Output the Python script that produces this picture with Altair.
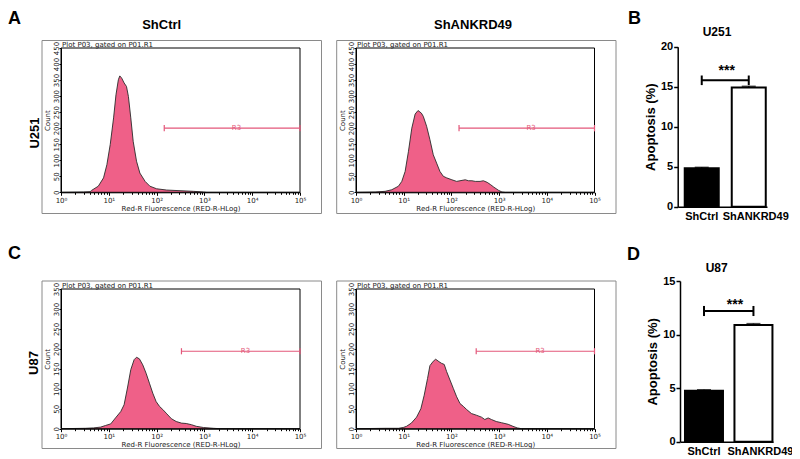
import altair as alt
import numpy as np
import pandas as pd

W, H = 784, 451

# ------------------------------------------------------------------ data
col_titles = ["ShCtrl", "ShANKRD49"]
row_titles = ["U251", "U87"]
panel_letters = ["A", "B", "C", "D"]
plot_caption = "Plot P03, gated on P01.R1"
x_title = "Red-R Fluorescence (RED-R-HLog)"
gate_name = "R3"

# histograms: log10(fluorescence) and counts
u251_ctrl_log10 = [0.0, 0.47, 0.61, 0.64, 0.78, 0.89, 0.96, 1.03, 1.10, 1.15, 1.20, 1.23,
                   1.27, 1.32, 1.37, 1.41, 1.46, 1.51, 1.58, 1.65, 1.76, 1.86, 2.00, 2.21,
                   2.49, 2.77, 2.98, 3.05, 5.0]
u251_ctrl_count = [0, 1, 2, 6, 19, 45, 86, 149, 232, 304, 351, 363,
                   356, 341, 330, 299, 232, 159, 97, 60, 34, 19, 11, 7,
                   5, 3, 1, 0, 0]

u251_sh_log10 = [0.0, 0.40, 0.61, 0.75, 0.89, 0.96, 1.03, 1.10, 1.17, 1.24, 1.30, 1.37,
                 1.41, 1.48, 1.55, 1.62, 1.69, 1.76, 1.83, 1.90, 2.01, 2.11, 2.18, 2.29,
                 2.36, 2.43, 2.50, 2.60, 2.67, 2.75, 2.82, 2.89, 2.99, 3.06, 3.13, 5.0]
u251_sh_count = [0, 1, 3, 8, 19, 34, 65, 128, 200, 244, 255, 247,
                 237, 206, 164, 117, 91, 65, 50, 45, 39, 34, 36, 39,
                 36, 36, 34, 34, 36, 31, 24, 16, 6, 1, 0, 0]

u87_ctrl_log10 = [0.0, 0.51, 0.68, 0.83, 0.93, 1.04, 1.14, 1.25, 1.32, 1.39, 1.46, 1.53,
                  1.58, 1.64, 1.71, 1.78, 1.85, 1.92, 1.99, 2.06, 2.13, 2.20, 2.31, 2.41,
                  2.52, 2.62, 2.73, 2.83, 2.98, 3.19, 3.33, 5.0]
u87_ctrl_count = [0, 1, 2, 4, 8, 12, 27, 43, 60, 102, 148, 173,
                  179, 175, 160, 139, 114, 89, 68, 56, 48, 39, 25, 18,
                  14, 13, 10, 6, 3, 1, 0, 0]

u87_sh_log10 = [0.0, 0.61, 0.89, 0.99, 1.06, 1.16, 1.27, 1.36, 1.43, 1.50, 1.55, 1.62,
                1.67, 1.74, 1.79, 1.85, 1.90, 1.97, 2.04, 2.11, 2.18, 2.25, 2.32, 2.42,
                2.52, 2.63, 2.70, 2.77, 2.84, 2.94, 3.05, 3.19, 3.29, 3.38, 3.47, 5.0]
u87_sh_count = [0, 1, 1, 3, 6, 14, 29, 50, 84, 126, 158, 169,
                174, 168, 164, 161, 143, 122, 101, 80, 63, 56, 48, 38,
                34, 29, 23, 27, 23, 18, 15, 11, 6, 2, 0, 0]

# gate R3: start (log10), level (count), label position (log10)
u251_gate = (2.16, 200, 3.67)
u87_gate = (2.52, 194, 3.86)

# bar charts
bar_groups = ["ShCtrl", "ShANKRD49"]
u251_apoptosis = [4.8, 14.9]
u251_sem = [0.12, 0.15]
u87_apoptosis = [4.75, 10.9]
u87_sem = [0.1, 0.12]
u251_sig_level = 15.8
u87_sig_level = 12.2
sig_text = "***"

decade_ticks = [1, 10, 100, 1000, 10000, 100000]
minor_ticks = [m * 10 ** k for k in range(5) for m in range(2, 10)]

# ------------------------------------------------------------------ style
PINK = "#EF6088"
GATE = "#E3577A"
FLOW_FONT = "DejaVu Sans"
BAR_FONT = "Liberation Sans"
SUP = "['\u2070','\u00b9','\u00b2','\u00b3','\u2074','\u2075']"

one = pd.DataFrame({"k": [0]})


def text_layer(t, x, y, size, angle=0, align="center", baseline="middle",
               font=BAR_FONT, weight="bold", color="black"):
    return alt.Chart(pd.DataFrame({"t": [t]})).mark_text(
        fontSize=size, font=font, fontWeight=weight, align=align,
        baseline=baseline, angle=angle, color=color
    ).encode(text="t:N", x=alt.value(x), y=alt.value(y))


def histogram(logs, counts, ymax, xr, yr, gate, frame):
    df = pd.DataFrame({"fl": np.power(10.0, logs), "count": counts})
    xs = alt.Scale(type="log", domain=[1, 100000], range=xr, nice=False)
    ys = alt.Scale(domain=[0, ymax], range=yr, nice=False, zero=False)
    out = []
    # outer grey frame
    out.append(alt.Chart(one).mark_rect(fillOpacity=0, stroke="#8a8a8a", strokeWidth=1).encode(
        x=alt.value(frame[0]), x2=alt.value(frame[1]),
        y=alt.value(frame[2]), y2=alt.value(frame[3])))
    # filled histogram with main axes
    out.append(alt.Chart(df).mark_area(
        color=PINK, opacity=1, line={"color": "#2a2a2a", "strokeWidth": 0.9}
    ).encode(
        x=alt.X("fl:Q", scale=xs, axis=alt.Axis(
            orient="bottom", offset=yr[0] - H, values=decade_ticks,
            labelExpr="'10' + " + SUP + "[round(log(datum.value)/LN10)]",
            labelFont=FLOW_FONT, labelFontSize=7, labelColor="#222",
            labelPadding=1, labelFlush=False, tickSize=3, tickColor="black",
            domainColor="black", grid=False, title=x_title, titleFont=FLOW_FONT,
            titleFontSize=7, titleFontWeight="normal", titleColor="#222",
            titlePadding=1)),
        y=alt.Y("count:Q", scale=ys, axis=alt.Axis(
            orient="left", offset=-xr[0], values=list(range(0, ymax + 1, 50)),
            labelAngle=270, labelAlign="center", labelBaseline="alphabetic",
            labelFont=FLOW_FONT, labelFontSize=7, labelColor="#222",
            labelPadding=1, labelFlush=False, tickSize=2, tickColor="black",
            domainColor="black", grid=False, title="Count", titleFont=FLOW_FONT,
            titleFontSize=7, titleFontWeight="normal", titleColor="#222",
            titlePadding=2)),
        y2=alt.datum(0),
    ))
    # minor log ticks
    out.append(alt.Chart(df).mark_point(opacity=0).encode(
        x=alt.X("fl:Q", scale=xs, axis=alt.Axis(
            orient="bottom", offset=yr[0] - H, values=minor_ticks, labels=False,
            tickSize=2, tickColor="black", domain=False, grid=False, title="")),
        y=alt.Y("count:Q", scale=ys, axis=None)))
    # inner box
    box = pd.DataFrame({"x1": [1], "x2": [100000], "y1": [0], "y2": [ymax]})
    out.append(alt.Chart(box).mark_rect(fillOpacity=0, stroke="black", strokeWidth=1).encode(
        x=alt.X("x1:Q", scale=xs, axis=None), x2="x2:Q",
        y=alt.Y("y1:Q", scale=ys, axis=None), y2="y2:Q"))
    # gate
    lo, lvl, lab = gate
    g = pd.DataFrame({"x1": [10 ** lo], "x2": [100000], "y": [lvl]})
    out.append(alt.Chart(g).mark_rule(color=GATE, strokeWidth=1.2).encode(
        x=alt.X("x1:Q", scale=xs, axis=None), x2="x2:Q",
        y=alt.Y("y:Q", scale=ys, axis=None)))
    cap = ymax * 0.022
    caps = pd.DataFrame({"x": [10 ** lo, 100000], "y1": [lvl - cap] * 2, "y2": [lvl + cap] * 2})
    out.append(alt.Chart(caps).mark_rule(color=GATE, strokeWidth=1.2).encode(
        x=alt.X("x:Q", scale=xs, axis=None),
        y=alt.Y("y1:Q", scale=ys, axis=None), y2="y2:Q"))
    gl = pd.DataFrame({"x": [10 ** lab], "y": [lvl], "t": [gate_name]})
    out.append(alt.Chart(gl).mark_text(color=GATE, font=FLOW_FONT, fontSize=7,
                                       baseline="alphabetic", dy=2).encode(
        x=alt.X("x:Q", scale=xs, axis=None),
        y=alt.Y("y:Q", scale=ys, axis=None), text="t:N"))
    out.append(text_layer(plot_caption, xr[0] + 1, yr[1] - 1.5, 7, align="left",
                          baseline="alphabetic", font=FLOW_FONT, weight="normal",
                          color="#222"))
    return out


def bar_panel(values, sems, ymax, yvals, xr, yr, pin, pout, align, sig_level, sig_cap, sig_xy):
    df = pd.DataFrame({"group": bar_groups, "value": values, "sem": sems})
    df["top"] = df["value"] + df["sem"]
    xs = alt.Scale(type="band", domain=bar_groups, range=xr, paddingInner=pin,
                   paddingOuter=pout, align=align)
    ys = alt.Scale(domain=[0, ymax], range=yr, nice=False)
    out = []
    out.append(alt.Chart(df).mark_bar(stroke="black", strokeWidth=2).encode(
        x=alt.X("group:N", scale=xs, sort=bar_groups, axis=alt.Axis(
            orient="bottom", offset=yr[0] - H, labelAngle=0, labelFont=BAR_FONT,
            labelFontSize=11, labelFontWeight="bold", labelColor="black",
            labelPadding=4, ticks=False,
            labelOffset={"condition": {"test": "datum.value == 'ShANKRD49'", "value": 7},
                         "value": 0},
            domainWidth=1.5, domainColor="black", grid=False, title="")),
        y=alt.Y("value:Q", scale=ys, axis=alt.Axis(
            orient="left", offset=-xr[0], values=yvals, labelFont=BAR_FONT,
            labelFontSize=11, labelFontWeight="bold", labelColor="black",
            labelPadding=1, tickSize=4, tickWidth=1.5, tickColor="black",
            domainWidth=1.5, domainColor="black", grid=False,
            title="Apoptosis (%)", titleFont=BAR_FONT, titleFontSize=13,
            titleFontWeight="bold", titleColor="black", titlePadding=3)),
        fill=alt.Fill("group:N", scale=alt.Scale(domain=bar_groups, range=["black", "white"]),
                      legend=None),
    ))
    out.append(alt.Chart(df).mark_rule(color="black", strokeWidth=1.5).encode(
        x=alt.X("group:N", scale=xs, sort=bar_groups, axis=None),
        y=alt.Y("value:Q", scale=ys, axis=None), y2="top:Q"))
    out.append(alt.Chart(df).mark_tick(color="black", thickness=1.5, size=14,
                                       orient="horizontal").encode(
        x=alt.X("group:N", scale=xs, sort=bar_groups, axis=None),
        y=alt.Y("top:Q", scale=ys, axis=None)))
    sig = pd.DataFrame({"group": bar_groups, "y": [sig_level] * 2, "o": [0, 1],
                        "y1": [sig_level - sig_cap] * 2, "y2": [sig_level + sig_cap] * 2})
    out.append(alt.Chart(sig).mark_line(color="black", strokeWidth=2).encode(
        x=alt.X("group:N", scale=xs, sort=bar_groups, axis=None),
        y=alt.Y("y:Q", scale=ys, axis=None), order="o:Q"))
    out.append(alt.Chart(sig).mark_rule(color="black", strokeWidth=2).encode(
        x=alt.X("group:N", scale=xs, sort=bar_groups, axis=None),
        y=alt.Y("y1:Q", scale=ys, axis=None), y2="y2:Q"))
    out.append(text_layer(sig_text, sig_xy[0], sig_xy[1], 14, baseline="alphabetic"))
    return out


layers = []
# top row (U251)
layers += histogram(u251_ctrl_log10, u251_ctrl_count, 450, [53, 292], [184.3, 40],
                    u251_gate, [34, 313.5, 32.5, 205.5])
layers += histogram(u251_sh_log10, u251_sh_count, 450, [348, 586.5], [184.3, 40],
                    u251_gate, [328.7, 608, 32.5, 205.5])
# bottom row (U87)
layers += histogram(u87_ctrl_log10, u87_ctrl_count, 350, [53, 292], [420.7, 281],
                    u87_gate, [34, 313.5, 273, 440.5])
layers += histogram(u87_sh_log10, u87_sh_count, 350, [348, 586.5], [420.7, 281],
                    u87_gate, [328.7, 608, 273, 440.5])
# bar charts
layers += bar_panel(u251_apoptosis, u251_sem, 20, [0, 5, 10, 15, 20], [669.7, 759],
                    [198.7, 38.7], 0.2766, 0.088, 0.85, u251_sig_level, 0.6, (718.7, 66.7))
layers += bar_panel(u87_apoptosis, u87_sem, 15, [0, 5, 10, 15], [672, 765],
                    [433.7, 273], 0.232, 0.056, 0.9, u87_sig_level, 0.47, (727, 300.7))

# titles and labels
layers.append(text_layer(col_titles[0], 153.7, 17, 13))
layers.append(text_layer(col_titles[1], 465, 17, 13))
layers.append(text_layer(row_titles[0], 27, 125, 13, angle=270))
layers.append(text_layer(row_titles[1], 26, 355, 13, angle=270))
layers.append(text_layer(row_titles[0], 709, 23.7, 12))
layers.append(text_layer(row_titles[1], 708.7, 260.3, 12))
layers.append(text_layer(panel_letters[0], 0, 2, 18, align="left", baseline="top"))
layers.append(text_layer(panel_letters[1], 620, 2, 18, align="left", baseline="top"))
layers.append(text_layer(panel_letters[2], 0, 237, 18, align="left", baseline="top"))
layers.append(text_layer(panel_letters[3], 619, 238, 18, align="left", baseline="top"))

chart = alt.layer(*layers).properties(
    width=W, height=H, padding=0,
    autosize=alt.AutoSizeParams(type="none"),
).resolve_scale(x="independent", y="independent").configure_view(strokeWidth=0)

chart.save("out.html", embed_options={"renderer": "svg", "actions": False})
